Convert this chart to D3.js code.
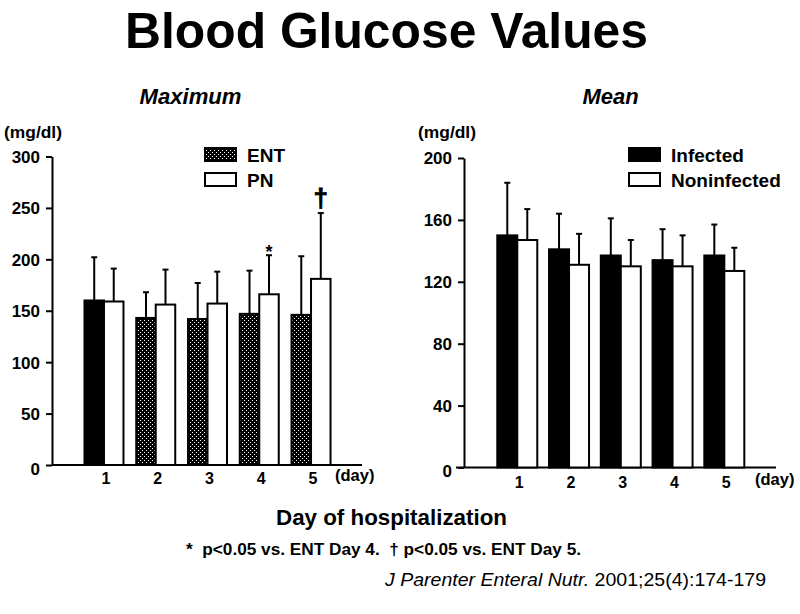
<!DOCTYPE html>
<html>
<head>
<meta charset="utf-8">
<script src="https://cdn.jsdelivr.net/npm/d3@7"></script>
<style>
  html, body { margin: 0; padding: 0; background: #fff; }
  svg { display: block; }
  text { font-family: "Liberation Sans", Arial, Helvetica, sans-serif; fill: #000; }
</style>
</head>
<body>
<svg id="chart" width="800" height="614"></svg>
<script>
// ---- data ----
const days = ["1", "2", "3", "4", "5"];
// Maximum panel (mg/dl)
const entMax = [160, 143, 142, 147, 146];
const entMaxSD = [42, 25, 35, 42, 57];
const pnMax = [159, 156, 157, 166, 181];
const pnMaxSD = [32, 34, 31, 38, 64];
const maxTicks = [0, 50, 100, 150, 200, 250, 300];
// Mean panel (mg/dl)
const infMean = [150, 141, 137, 134, 137];
const infMeanSD = [34, 23, 24, 20, 20];
const noninfMean = [147, 131, 130, 130, 127];
const noninfMeanSD = [20, 20, 17, 20, 15];
const meanTicks = [0, 40, 80, 120, 160, 200];
// significance markers on the Maximum panel (PN bars)
const pnMarks = ["", "", "", "*", "\u2020"];

const svg = d3.select("#chart");
const FONT = "'Liberation Sans', Arial, Helvetica, sans-serif";

// pattern for ENT bars (black with white dots)
const defs = svg.append("defs");
const pat = defs.append("pattern").attr("id", "dots")
  .attr("patternUnits", "userSpaceOnUse").attr("width", 4).attr("height", 4);
pat.append("rect").attr("width", 4).attr("height", 4).attr("fill", "#000");
pat.append("rect").attr("x", 0).attr("y", 0).attr("width", 1).attr("height", 1).attr("fill", "#fff");
pat.append("rect").attr("x", 2).attr("y", 2).attr("width", 1).attr("height", 1).attr("fill", "#fff");

// titles
svg.append("text").attr("x", 386.5).attr("y", 48).attr("text-anchor", "middle")
  .attr("font-size", 50).attr("font-weight", "bold").attr("textLength", 523)
  .attr("lengthAdjust", "spacingAndGlyphs").text("Blood Glucose Values");
svg.append("text").attr("x", 190.5).attr("y", 104).attr("text-anchor", "middle")
  .attr("font-size", 22).attr("font-weight", "bold").attr("font-style", "italic")
  .attr("textLength", 102).attr("lengthAdjust", "spacingAndGlyphs")
  .text("Maximum");
svg.append("text").attr("x", 610.5).attr("y", 104).attr("text-anchor", "middle")
  .attr("font-size", 22).attr("font-weight", "bold").attr("font-style", "italic")
  .text("Mean");

function panel(cfg) {
  const g = svg.append("g");
  const y = d3.scaleLinear().domain([0, cfg.ymax]).range(cfg.yRange);
  const x = d3.scaleBand().domain(days).range(cfg.xRange).paddingInner(0).paddingOuter(0);
  const bw = cfg.barW;

  // y axis
  const ya = g.append("g").attr("transform", `translate(${cfg.axisX},0)`)
    .call(d3.axisLeft(y).tickValues(cfg.ticks).tickSize(6).tickSizeOuter(0).tickPadding(6));
  ya.select(".domain").attr("stroke", "#000").attr("stroke-width", 2);
  ya.selectAll(".tick line").attr("stroke", "#000").attr("stroke-width", 2);
  ya.selectAll(".tick text").attr("font-family", FONT).attr("font-size", 17)
    .attr("font-weight", "bold").attr("fill", "#000")
    .attr("dy", d => d === 0 ? "0.55em" : "0.35em");

  // x axis line
  g.append("line").attr("x1", cfg.xLineStart).attr("x2", cfg.xLineEnd)
    .attr("y1", y(0)).attr("y2", y(0)).attr("stroke", "#000").attr("stroke-width", 2);

  // x labels
  const xa = g.append("g").attr("transform", `translate(0,${y(0)})`)
    .call(d3.axisBottom(x).tickSize(0).tickPadding(10));
  xa.select(".domain").remove();
  xa.selectAll(".tick text").attr("font-family", FONT).attr("font-size", 16)
    .attr("font-weight", "bold").attr("fill", "#000").attr("dx", 2).attr("dy", cfg.dayDy);

  g.append("text").attr("x", cfg.dayX).attr("y", cfg.dayY).attr("font-size", 16.5)
    .attr("font-weight", "bold").text("(day)");
  g.append("text").attr("x", cfg.unitX).attr("y", 138).attr("font-size", 16.5)
    .attr("font-weight", "bold").attr("textLength", 58)
    .attr("lengthAdjust", "spacingAndGlyphs").text("(mg/dl)");

  const series = [
    { vals: cfg.aVals, sd: cfg.aSD, off: -bw, fill: cfg.aFill },
    { vals: cfg.bVals, sd: cfg.bSD, off: 0, fill: "#fff" }
  ];
  series.forEach(s => {
    const rows = days.map((d, i) => ({ d, i, v: s.vals[i], e: s.sd[i] }));
    const cx = r => x(r.d) + x.bandwidth() / 2 + s.off + bw / 2;
    // error bars
    g.selectAll(null).data(rows).join("line")
      .attr("x1", cx).attr("x2", cx)
      .attr("y1", r => y(r.v)).attr("y2", r => y(r.v + r.e))
      .attr("stroke", "#000").attr("stroke-width", 2);
    g.selectAll(null).data(rows).join("line")
      .attr("x1", r => cx(r) - 3).attr("x2", r => cx(r) + 3)
      .attr("y1", r => y(r.v + r.e)).attr("y2", r => y(r.v + r.e))
      .attr("stroke", "#000").attr("stroke-width", 2);
    // bars
    g.selectAll(null).data(rows).join("rect")
      .attr("x", r => x(r.d) + x.bandwidth() / 2 + s.off)
      .attr("y", r => y(r.v))
      .attr("width", bw)
      .attr("height", r => y(0) - y(r.v))
      .attr("fill", r => typeof s.fill === "function" ? s.fill(r.i) : s.fill)
      .attr("stroke", "#000").attr("stroke-width", 2);
  });

  // legend
  cfg.legend.forEach((L, i) => {
    const ly = 148 + i * 25;
    g.append("rect").attr("x", cfg.legX).attr("y", ly).attr("width", 31).attr("height", 13)
      .attr("fill", L.fill).attr("stroke", "#000").attr("stroke-width", 2);
    g.append("text").attr("x", cfg.legX + 42).attr("y", ly + 14).attr("font-size", 19)
      .attr("font-weight", "bold").text(L.label);
  });

  return { g, x, y, bw };
}

const left = panel({
  ymax: 300, yRange: [465, 156.5], xRange: [78.1, 336.9], barW: 19.5,
  axisX: 52, ticks: maxTicks, xLineStart: 52, xLineEnd: 362,
  dayX: 335, dayY: 481, dayDy: "0.55em", unitX: 4,
  aVals: entMax, aSD: entMaxSD, bVals: pnMax, bSD: pnMaxSD,
  aFill: i => i === 0 ? "#000" : "url(#dots)",
  legX: 205,
  legend: [{ label: "ENT", fill: "url(#dots)" }, { label: "PN", fill: "#fff" }]
});

// significance marks
left.g.selectAll(null).data(days.map((d, i) => ({ d, i, m: pnMarks[i] })).filter(r => r.m))
  .join("text")
  .attr("x", r => left.x(r.d) + left.x.bandwidth() / 2 + left.bw / 2)
  .attr("y", r => left.y(pnMax[r.i] + pnMaxSD[r.i]) + (r.m === "*" ? 3 : -6))
  .attr("text-anchor", "middle").attr("font-weight", "bold")
  .attr("font-size", r => r.m === "*" ? 18 : 26)
  .attr("stroke", r => r.m === "*" ? "none" : "#000")
  .attr("stroke-width", 0.8)
  .text(r => r.m);

panel({
  ymax: 200, yRange: [467.5, 158], xRange: [491.4, 750.2], barW: 20,
  axisX: 464, ticks: meanTicks, xLineStart: 456, xLineEnd: 776,
  dayX: 755, dayY: 485, dayDy: "0.65em", unitX: 418,
  aVals: infMean, aSD: infMeanSD, bVals: noninfMean, bSD: noninfMeanSD,
  aFill: "#000",
  legX: 629,
  legend: [{ label: "Infected", fill: "#000" }, { label: "Noninfected", fill: "#fff" }]
});

// bottom texts
svg.append("text").attr("x", 391.5).attr("y", 525).attr("text-anchor", "middle")
  .attr("font-size", 22).attr("font-weight", "bold").attr("textLength", 231)
  .attr("lengthAdjust", "spacingAndGlyphs").text("Day of hospitalization");
svg.append("text").attr("x", 186).attr("y", 555).attr("font-size", 16)
  .attr("font-weight", "bold").attr("textLength", 395)
  .attr("lengthAdjust", "spacingAndGlyphs").style("white-space", "pre")
  .text("*  p<0.05 vs. ENT Day 4.  \u2020 p<0.05 vs. ENT Day 5.");
const cite = svg.append("text").attr("x", 766).attr("y", 586).attr("text-anchor", "end")
  .attr("font-size", 19).attr("textLength", 381).attr("lengthAdjust", "spacingAndGlyphs");
cite.append("tspan").attr("font-style", "italic").text("J Parenter Enteral Nutr.");
cite.append("tspan").text(" 2001;25(4):174-179");
</script>
</body>
</html>
